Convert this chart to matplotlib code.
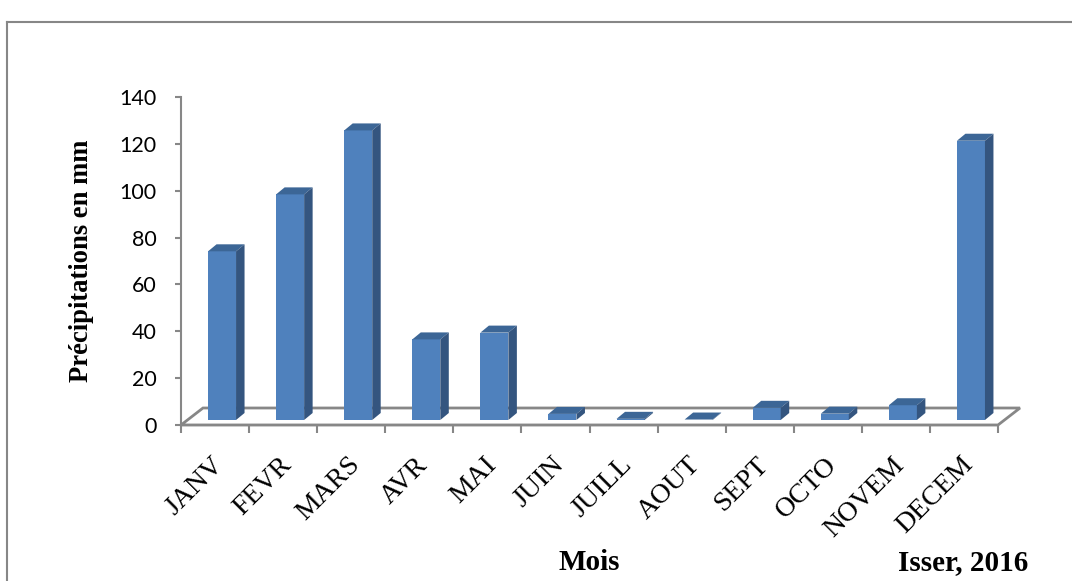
# Précipitations mensuelles - Isser 2016 (barres façon Excel 3D)

import matplotlib.pyplot as plt
from matplotlib.patches import Polygon, Rectangle
from matplotlib.lines import Line2D
from matplotlib.transforms import ScaledTranslation

mois = ["JANV", "FEVR", "MARS", "AVR", "MAI", "JUIN",
        "JUILL", "AOUT", "SEPT", "OCTO", "NOVEM", "DECEM"]
precip = [72.0, 96.3, 123.6, 34.4, 37.3, 2.6, 0.5, 0.2, 5.2, 2.7, 6.3, 119.2]
yticks = [0, 20, 40, 60, 80, 100, 120, 140]

front_col = "#4F81BD"
top_col = "#3C6696"
side_col = "#34557F"
grey = "#878787"

W, H = 1072, 581
fig = plt.figure(figsize=(W / 100, H / 100), dpi=100)
# axes placed in pixels: x from 181 to 998, y from 425 (0) to 97 (140)
ax = fig.add_axes([181 / W, (H - 425) / H, 817 / W, 328 / H])
ax.set_xlim(-0.5, 11.5)
ax.set_ylim(0, 140)

# pixel -> data conversions
px_x = 12 / 817
px_y = 140 / 328

# floor of the 3d chart
fdx, fdy = 22 * px_x, 17 * px_y
floor = Polygon([(-0.5, 0), (11.5, 0), (11.5 + fdx, fdy), (-0.5 + fdx, fdy)],
                closed=True, facecolor="white", edgecolor=grey, lw=2,
                clip_on=False, zorder=1)
ax.add_patch(floor)

# bars: front face + top + right side
bw = 28 * px_x
shift = 7 * px_x
base = 5 * px_y
sdx, sdy = 8.5 * px_x, 7 * px_y
for i, v in enumerate(precip):
    x0 = i + shift - bw / 2
    x1 = x0 + bw
    top = base + v
    ax.add_patch(Rectangle((x0, base), bw, v, facecolor=front_col,
                           edgecolor="none", zorder=3, clip_on=False))
    ax.add_patch(Polygon([(x0, top), (x1, top), (x1 + sdx, top + sdy), (x0 + sdx, top + sdy)],
                         closed=True, facecolor=top_col, edgecolor="none", zorder=3, clip_on=False))
    ax.add_patch(Polygon([(x1, base), (x1 + sdx, base + sdy), (x1 + sdx, top + sdy), (x1, top)],
                         closed=True, facecolor=side_col, edgecolor="none", zorder=3, clip_on=False))

# axes styling
for s in ["top", "right"]:
    ax.spines[s].set_visible(False)
for s in ["left", "bottom"]:
    ax.spines[s].set_color(grey)
    ax.spines[s].set_linewidth(1.5)
    ax.spines[s].set_zorder(2)

ax.set_yticks(yticks)
ax.set_yticklabels([str(t) for t in yticks], fontfamily="Lato", fontsize=15.5)
ax.tick_params(axis="y", length=4.5, width=1.5, color=grey, pad=13)

ax.set_xticks([i - 0.5 for i in range(13)])
ax.set_xticklabels([])
ax.tick_params(axis="x", which="major", length=6, width=1.5, color=grey)
ax.set_xticks(range(12), mois, minor=True)
ax.tick_params(axis="x", which="minor", length=0, pad=26)
for lab in ax.get_xticklabels(minor=True):
    lab.set_fontfamily("Liberation Serif")
    lab.set_fontsize(20)
    lab.set_rotation(45)
    lab.set_ha("right")
    lab.set_va("center")
    lab.set_rotation_mode("anchor")
    lab.set_transform(lab.get_transform() + ScaledTranslation(5 / 100, 0, fig.dpi_scale_trans))

fig.text(81 / W, 1 - 261 / H, "Précipitations en mm", rotation=90,
         fontfamily="Liberation Serif", fontweight="bold", fontsize=19.2,
         ha="center", va="center")
fig.text(589 / W, 1 - 563 / H, "Mois", fontfamily="Liberation Serif",
         fontweight="bold", fontsize=21, ha="center", va="center")
fig.text(963 / W, 1 - 563 / H, "Isser, 2016", fontfamily="Liberation Serif",
         fontweight="bold", fontsize=21, ha="center", va="center")

# outer frame (partly cut off on right and bottom)
fig.add_artist(Line2D([7 / W, 7 / W], [0, 1 - 22 / H], color=grey, lw=1.5))
fig.add_artist(Line2D([7 / W, 1], [1 - 22 / H, 1 - 22 / H], color=grey, lw=1.5))

fig.savefig("out.png", dpi=100)
